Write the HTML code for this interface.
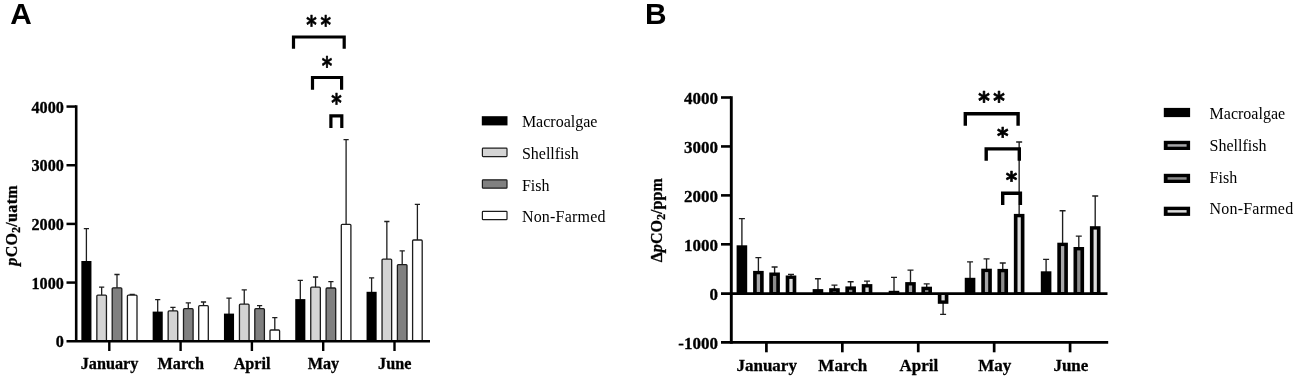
<!DOCTYPE html>
<html lang="en"><head><meta charset="utf-8"><title>pCO2 charts</title>
<style>
html,body{margin:0;padding:0;background:#fff;}
body{width:1299px;height:380px;overflow:hidden;}
svg{display:block;}
.pl{font-family:"Liberation Sans",sans-serif;font-weight:bold;font-size:29.8px;fill:#000;}
.tk{font-family:"Liberation Serif",serif;font-weight:bold;font-size:16.2px;fill:#000;stroke:#000;stroke-width:0.3px;}
.tkb{font-family:"Liberation Serif",serif;font-weight:bold;font-size:17px;fill:#000;stroke:#000;stroke-width:0.3px;}
.lg{font-family:"Liberation Serif",serif;font-size:16px;fill:#000;}
.st{font-family:"DejaVu Sans",sans-serif;font-weight:bold;fill:#000;}
</style></head><body>
<svg width="1299" height="380" viewBox="0 0 1299 380">
<rect x="0" y="0" width="1299" height="380" fill="#fff"/>
<g id="panelA">
<text class="pl" x="10.3" y="24.3">A</text>
<path d="M86.4 262V228.7M83.8 228.7H89" stroke="#1e1e1e" stroke-width="1.3" fill="none"/>
<rect x="81.35" y="261" width="10.1" height="80.25" fill="#000"/>
<path d="M101.65 295.7V287.1M99.05 287.1H104.25" stroke="#1e1e1e" stroke-width="1.3" fill="none"/>
<rect x="96.85" y="295.1" width="9.6" height="45.95" rx="1" fill="#d4d4d4" stroke="#1c1c1c" stroke-width="1.3"/>
<path d="M117 288.4V274.5M114.4 274.5H119.6" stroke="#1e1e1e" stroke-width="1.3" fill="none"/>
<rect x="112.2" y="287.8" width="9.6" height="53.25" rx="1" fill="#808080" stroke="#1c1c1c" stroke-width="1.3"/>
<path d="M132.2 295.7V294.3M129.6 294.3H134.8" stroke="#1e1e1e" stroke-width="1.3" fill="none"/>
<rect x="127.4" y="295.1" width="9.6" height="45.95" rx="1" fill="#fff" stroke="#1c1c1c" stroke-width="1.3"/>
<path d="M157.7 312.6V299.6M155.1 299.6H160.3" stroke="#1e1e1e" stroke-width="1.3" fill="none"/>
<rect x="152.65" y="311.6" width="10.1" height="29.65" fill="#000"/>
<path d="M172.95 311.5V307.3M170.35 307.3H175.55" stroke="#1e1e1e" stroke-width="1.3" fill="none"/>
<rect x="168.15" y="310.9" width="9.6" height="30.15" rx="1" fill="#d4d4d4" stroke="#1c1c1c" stroke-width="1.3"/>
<path d="M188.3 309.3V302.9M185.7 302.9H190.9" stroke="#1e1e1e" stroke-width="1.3" fill="none"/>
<rect x="183.5" y="308.7" width="9.6" height="32.35" rx="1" fill="#808080" stroke="#1c1c1c" stroke-width="1.3"/>
<path d="M203.5 306.3V302M200.9 302H206.1" stroke="#1e1e1e" stroke-width="1.3" fill="none"/>
<rect x="198.7" y="305.7" width="9.6" height="35.35" rx="1" fill="#fff" stroke="#1c1c1c" stroke-width="1.3"/>
<path d="M229 314.6V298.1M226.4 298.1H231.6" stroke="#1e1e1e" stroke-width="1.3" fill="none"/>
<rect x="223.95" y="313.6" width="10.1" height="27.65" fill="#000"/>
<path d="M244.25 304.7V289.9M241.65 289.9H246.85" stroke="#1e1e1e" stroke-width="1.3" fill="none"/>
<rect x="239.45" y="304.1" width="9.6" height="36.95" rx="1" fill="#d4d4d4" stroke="#1c1c1c" stroke-width="1.3"/>
<path d="M259.6 309.3V305.6M257 305.6H262.2" stroke="#1e1e1e" stroke-width="1.3" fill="none"/>
<rect x="254.8" y="308.7" width="9.6" height="32.35" rx="1" fill="#808080" stroke="#1c1c1c" stroke-width="1.3"/>
<path d="M274.8 330.6V317.7M272.2 317.7H277.4" stroke="#1e1e1e" stroke-width="1.3" fill="none"/>
<rect x="270" y="330" width="9.6" height="11.05" rx="1" fill="#fff" stroke="#1c1c1c" stroke-width="1.3"/>
<path d="M300.3 300.1V280.3M297.7 280.3H302.9" stroke="#1e1e1e" stroke-width="1.3" fill="none"/>
<rect x="295.25" y="299.1" width="10.1" height="42.15" fill="#000"/>
<path d="M315.55 287.8V277M312.95 277H318.15" stroke="#1e1e1e" stroke-width="1.3" fill="none"/>
<rect x="310.75" y="287.2" width="9.6" height="53.85" rx="1" fill="#d4d4d4" stroke="#1c1c1c" stroke-width="1.3"/>
<path d="M330.9 288.6V281.6M328.3 281.6H333.5" stroke="#1e1e1e" stroke-width="1.3" fill="none"/>
<rect x="326.1" y="288" width="9.6" height="53.05" rx="1" fill="#808080" stroke="#1c1c1c" stroke-width="1.3"/>
<path d="M346.1 224.9V139.6M343.5 139.6H348.7" stroke="#1e1e1e" stroke-width="1.3" fill="none"/>
<rect x="341.3" y="224.3" width="9.6" height="116.75" rx="1" fill="#fff" stroke="#1c1c1c" stroke-width="1.3"/>
<path d="M371.6 292.8V277.8M369 277.8H374.2" stroke="#1e1e1e" stroke-width="1.3" fill="none"/>
<rect x="366.55" y="291.8" width="10.1" height="49.45" fill="#000"/>
<path d="M386.85 259.7V221.5M384.25 221.5H389.45" stroke="#1e1e1e" stroke-width="1.3" fill="none"/>
<rect x="382.05" y="259.1" width="9.6" height="81.95" rx="1" fill="#d4d4d4" stroke="#1c1c1c" stroke-width="1.3"/>
<path d="M402.2 265.2V250.8M399.6 250.8H404.8" stroke="#1e1e1e" stroke-width="1.3" fill="none"/>
<rect x="397.4" y="264.6" width="9.6" height="76.45" rx="1" fill="#808080" stroke="#1c1c1c" stroke-width="1.3"/>
<path d="M417.4 240.6V204.4M414.8 204.4H420" stroke="#1e1e1e" stroke-width="1.3" fill="none"/>
<rect x="412.6" y="240" width="9.6" height="101.05" rx="1" fill="#fff" stroke="#1c1c1c" stroke-width="1.3"/>
<path d="M76.2 105.25V342" stroke="#000" stroke-width="2.6" fill="none"/>
<path d="M66.5 341.25H430" stroke="#000" stroke-width="2.7" fill="none"/>
<text class="tk" x="63.9" y="347.45" text-anchor="end">0</text>
<path d="M66.5 282.58H76" stroke="#000" stroke-width="2.5" fill="none"/>
<text class="tk" x="63.9" y="288.78" text-anchor="end">1000</text>
<path d="M66.5 223.91H76" stroke="#000" stroke-width="2.5" fill="none"/>
<text class="tk" x="63.9" y="230.11" text-anchor="end">2000</text>
<path d="M66.5 165.24H76" stroke="#000" stroke-width="2.5" fill="none"/>
<text class="tk" x="63.9" y="171.44" text-anchor="end">3000</text>
<path d="M66.5 106.57H76" stroke="#000" stroke-width="2.5" fill="none"/>
<text class="tk" x="63.9" y="112.77" text-anchor="end">4000</text>
<path d="M109.3 341.25V351" stroke="#000" stroke-width="2.4" fill="none"/>
<text class="tk" x="109.5" y="368.8" text-anchor="middle">January</text>
<path d="M180.6 341.25V351" stroke="#000" stroke-width="2.4" fill="none"/>
<text class="tk" x="180.8" y="368.8" text-anchor="middle">March</text>
<path d="M251.9 341.25V351" stroke="#000" stroke-width="2.4" fill="none"/>
<text class="tk" x="252.1" y="368.8" text-anchor="middle">April</text>
<path d="M323.2 341.25V351" stroke="#000" stroke-width="2.4" fill="none"/>
<text class="tk" x="323.4" y="368.8" text-anchor="middle">May</text>
<path d="M394.5 341.25V351" stroke="#000" stroke-width="2.4" fill="none"/>
<text class="tk" x="394.7" y="368.8" text-anchor="middle">June</text>
<text class="tk" style="font-size:16px;letter-spacing:0.32px" transform="translate(16.5 265.7) rotate(-90)"><tspan font-style="italic">p</tspan>CO<tspan font-size="11.5" dy="3.1">2</tspan><tspan dy="-3.1">/uatm</tspan></text>
<path d="M293.5 48.7V37H344.2V48.7" stroke="#000" stroke-width="3.2" fill="none" stroke-linejoin="miter"/>
<path d="M312.5 89.7V77.5H341.6V89.7" stroke="#000" stroke-width="3.2" fill="none" stroke-linejoin="miter"/>
<path d="M330.9 128V115.9H341.8V128" stroke="#000" stroke-width="3.2" fill="none" stroke-linejoin="miter"/>
<text class="st" font-size="20" transform="translate(311.5 21.2) scale(1 1.2)" x="0" y="9.62" text-anchor="middle" stroke="#000" stroke-width="0.45" stroke-linejoin="round">*</text>
<text class="st" font-size="20" transform="translate(325.6 21.2) scale(1 1.2)" x="0" y="9.62" text-anchor="middle" stroke="#000" stroke-width="0.45" stroke-linejoin="round">*</text>
<text class="st" font-size="20" transform="translate(327 62.6) scale(1 1.2)" x="0" y="9.62" text-anchor="middle" stroke="#000" stroke-width="0.45" stroke-linejoin="round">*</text>
<text class="st" font-size="20" transform="translate(336.4 99.6) scale(1 1.2)" x="0" y="9.62" text-anchor="middle" stroke="#000" stroke-width="0.45" stroke-linejoin="round">*</text>
<rect x="481.8" y="116.2" width="25.7" height="9.2" fill="#000"/>
<text class="lg" x="521.9" y="126.8">Macroalgae</text>
<rect x="482.4" y="148.2" width="24.6" height="8.4" rx="0.8" fill="#d4d4d4" stroke="#1c1c1c" stroke-width="1.2"/>
<text class="lg" x="521.9" y="158.9">Shellfish</text>
<rect x="482.4" y="179.8" width="24.6" height="8.4" rx="0.8" fill="#808080" stroke="#1c1c1c" stroke-width="1.2"/>
<text class="lg" x="521.9" y="190.7">Fish</text>
<rect x="482.4" y="211.3" width="24.6" height="8.4" rx="0.8" fill="#fff" stroke="#1c1c1c" stroke-width="1.2"/>
<text class="lg" x="521.9" y="222" letter-spacing="0.2">Non-Farmed</text>
</g>
<g id="panelB">
<text class="pl" x="644.9" y="24.3">B</text>
<path d="M741.9 246.3V218.6M738.9 218.6H744.9" stroke="#1e1e1e" stroke-width="1.35" fill="none"/>
<rect x="736.6" y="245.3" width="10.6" height="48.2" fill="#000"/>
<path d="M758.4 271.9V257.6M755.4 257.6H761.4" stroke="#1e1e1e" stroke-width="1.35" fill="none"/>
<rect x="753.1" y="270.9" width="10.6" height="22.6" fill="#000"/>
<rect x="756.75" y="274.3" width="3.3" height="17.8" fill="#a6a6a8"/>
<path d="M774.6 273.5V267M771.6 267H777.6" stroke="#1e1e1e" stroke-width="1.35" fill="none"/>
<rect x="769.3" y="272.5" width="10.6" height="21" fill="#000"/>
<rect x="772.95" y="275.9" width="3.3" height="16.2" fill="#8c8c8c"/>
<path d="M791 276.5V274.4M788 274.4H794" stroke="#1e1e1e" stroke-width="1.35" fill="none"/>
<rect x="785.7" y="275.5" width="10.6" height="18" fill="#000"/>
<rect x="789.35" y="278.9" width="3.3" height="13.2" fill="#dcdcdc"/>
<path d="M817.95 290.1V278.7M814.95 278.7H820.95" stroke="#1e1e1e" stroke-width="1.35" fill="none"/>
<rect x="812.65" y="289.1" width="10.6" height="4.4" fill="#000"/>
<path d="M834.45 289.2V285.1M831.45 285.1H837.45" stroke="#1e1e1e" stroke-width="1.35" fill="none"/>
<rect x="829.15" y="288.2" width="10.6" height="5.3" fill="#000"/>
<rect x="832.8" y="291.6" width="3.3" height="0.5" fill="#a6a6a8"/>
<path d="M850.65 287.4V281.7M847.65 281.7H853.65" stroke="#1e1e1e" stroke-width="1.35" fill="none"/>
<rect x="845.35" y="286.4" width="10.6" height="7.1" fill="#000"/>
<rect x="849" y="289.8" width="3.3" height="2.3" fill="#8c8c8c"/>
<path d="M867.05 285.1V281.1M864.05 281.1H870.05" stroke="#1e1e1e" stroke-width="1.35" fill="none"/>
<rect x="861.75" y="284.1" width="10.6" height="9.4" fill="#000"/>
<rect x="865.4" y="287.5" width="3.3" height="4.6" fill="#dcdcdc"/>
<path d="M894 291.8V277.4M891 277.4H897" stroke="#1e1e1e" stroke-width="1.35" fill="none"/>
<rect x="888.7" y="290.8" width="10.6" height="2.7" fill="#000"/>
<path d="M910.5 283.1V270.1M907.5 270.1H913.5" stroke="#1e1e1e" stroke-width="1.35" fill="none"/>
<rect x="905.2" y="282.1" width="10.6" height="11.4" fill="#000"/>
<rect x="908.85" y="285.5" width="3.3" height="6.6" fill="#a6a6a8"/>
<path d="M926.7 287.7V283.9M923.7 283.9H929.7" stroke="#1e1e1e" stroke-width="1.35" fill="none"/>
<rect x="921.4" y="286.7" width="10.6" height="6.8" fill="#000"/>
<rect x="925.05" y="290.1" width="3.3" height="2" fill="#8c8c8c"/>
<path d="M943.1 302.8V314.4M940.1 314.4H946.1" stroke="#1e1e1e" stroke-width="1.35" fill="none"/>
<rect x="937.8" y="293.5" width="10.6" height="10.3" fill="#000"/>
<rect x="941.45" y="294.9" width="3.3" height="5.5" fill="#dcdcdc"/>
<path d="M970.05 278.8V261.8M967.05 261.8H973.05" stroke="#1e1e1e" stroke-width="1.35" fill="none"/>
<rect x="964.75" y="277.8" width="10.6" height="15.7" fill="#000"/>
<path d="M986.55 269.7V258.8M983.55 258.8H989.55" stroke="#1e1e1e" stroke-width="1.35" fill="none"/>
<rect x="981.25" y="268.7" width="10.6" height="24.8" fill="#000"/>
<rect x="984.9" y="272.1" width="3.3" height="20" fill="#a6a6a8"/>
<path d="M1002.75 269.9V263M999.75 263H1005.75" stroke="#1e1e1e" stroke-width="1.35" fill="none"/>
<rect x="997.45" y="268.9" width="10.6" height="24.6" fill="#000"/>
<rect x="1001.1" y="272.3" width="3.3" height="19.8" fill="#8c8c8c"/>
<path d="M1019.15 214.9V142M1016.15 142H1022.15" stroke="#1e1e1e" stroke-width="1.35" fill="none"/>
<rect x="1013.85" y="213.9" width="10.6" height="79.6" fill="#000"/>
<rect x="1017.5" y="217.3" width="3.3" height="74.8" fill="#dcdcdc"/>
<path d="M1046.1 272.3V259.3M1043.1 259.3H1049.1" stroke="#1e1e1e" stroke-width="1.35" fill="none"/>
<rect x="1040.8" y="271.3" width="10.6" height="22.2" fill="#000"/>
<path d="M1062.6 243.7V210.7M1059.6 210.7H1065.6" stroke="#1e1e1e" stroke-width="1.35" fill="none"/>
<rect x="1057.3" y="242.7" width="10.6" height="50.8" fill="#000"/>
<rect x="1060.95" y="246.1" width="3.3" height="46" fill="#a6a6a8"/>
<path d="M1078.8 248V236.1M1075.8 236.1H1081.8" stroke="#1e1e1e" stroke-width="1.35" fill="none"/>
<rect x="1073.5" y="247" width="10.6" height="46.5" fill="#000"/>
<rect x="1077.15" y="250.4" width="3.3" height="41.7" fill="#8c8c8c"/>
<path d="M1095.2 227.2V196M1092.2 196H1098.2" stroke="#1e1e1e" stroke-width="1.35" fill="none"/>
<rect x="1089.9" y="226.2" width="10.6" height="67.3" fill="#000"/>
<rect x="1093.55" y="229.6" width="3.3" height="62.5" fill="#dcdcdc"/>
<path d="M731.3 96.2V343.7" stroke="#000" stroke-width="2.9" fill="none"/>
<path d="M721 293.65H1107.5" stroke="#000" stroke-width="2.8" fill="none"/>
<path d="M721 342.35H1108.2" stroke="#000" stroke-width="2.8" fill="none"/>
<text class="tkb" x="718" y="348.8" text-anchor="end">-1000</text>
<text class="tkb" x="718" y="299.86" text-anchor="end">0</text>
<path d="M721 244.32H731" stroke="#000" stroke-width="2.6" fill="none"/>
<text class="tkb" x="718" y="250.92" text-anchor="end">1000</text>
<path d="M721 195.38H731" stroke="#000" stroke-width="2.6" fill="none"/>
<text class="tkb" x="718" y="201.98" text-anchor="end">2000</text>
<path d="M721 146.44H731" stroke="#000" stroke-width="2.6" fill="none"/>
<text class="tkb" x="718" y="153.04" text-anchor="end">3000</text>
<path d="M721 97.5H731" stroke="#000" stroke-width="2.6" fill="none"/>
<text class="tkb" x="718" y="104.1" text-anchor="end">4000</text>
<path d="M766.4 342.2V352.3" stroke="#000" stroke-width="2.7" fill="none"/>
<text class="tkb" x="766.7" y="370.7" text-anchor="middle">January</text>
<path d="M842.32 342.2V352.3" stroke="#000" stroke-width="2.7" fill="none"/>
<text class="tkb" x="842.75" y="370.7" text-anchor="middle">March</text>
<path d="M918.24 342.2V352.3" stroke="#000" stroke-width="2.7" fill="none"/>
<text class="tkb" x="918.8" y="370.7" text-anchor="middle">April</text>
<path d="M994.16 342.2V352.3" stroke="#000" stroke-width="2.7" fill="none"/>
<text class="tkb" x="994.85" y="370.7" text-anchor="middle">May</text>
<path d="M1070.08 342.2V352.3" stroke="#000" stroke-width="2.7" fill="none"/>
<text class="tkb" x="1070.9" y="370.7" text-anchor="middle">June</text>
<text class="tkb" style="font-size:16px;letter-spacing:0.1px" transform="translate(661.7 262.3) rotate(-90)">&#916;<tspan font-style="italic">p</tspan>CO<tspan font-size="11.5" dy="3.2">2</tspan><tspan dy="-3.2">/ppm</tspan></text>
<path d="M965.3 125.8V113.7H1018.1V125.8" stroke="#000" stroke-width="3.4" fill="none" stroke-linejoin="miter"/>
<path d="M986.2 160.8V148.9H1019.3V160.8" stroke="#000" stroke-width="3.4" fill="none" stroke-linejoin="miter"/>
<path d="M1002.7 205.1V193.2H1020.4V205.1" stroke="#000" stroke-width="3.4" fill="none" stroke-linejoin="miter"/>
<text class="st" font-size="22" transform="translate(984 96.6) scale(1 1.13)" x="0" y="10.58" text-anchor="middle" stroke="#000" stroke-width="0.65" stroke-linejoin="round">*</text>
<text class="st" font-size="22" transform="translate(999.1 96.6) scale(1 1.13)" x="0" y="10.58" text-anchor="middle" stroke="#000" stroke-width="0.65" stroke-linejoin="round">*</text>
<text class="st" font-size="22" transform="translate(1002.8 132.6) scale(1 1.05)" x="0" y="10.58" text-anchor="middle" stroke="#000" stroke-width="0.65" stroke-linejoin="round">*</text>
<text class="st" font-size="22" transform="translate(1011.6 176.7) scale(1 1.05)" x="0" y="10.58" text-anchor="middle" stroke="#000" stroke-width="0.65" stroke-linejoin="round">*</text>
<rect x="1163.8" y="107.9" width="26.3" height="9.2" fill="#000"/>
<text class="lg" x="1209.6" y="118.9">Macroalgae</text>
<rect x="1163.8" y="140.8" width="26.3" height="9.2" fill="#000"/>
<rect x="1167.6" y="144.2" width="19" height="2.5" fill="#a6a6a8"/>
<text class="lg" x="1209.6" y="151">Shellfish</text>
<rect x="1163.8" y="173.8" width="26.3" height="9.2" fill="#000"/>
<rect x="1167.6" y="177.2" width="19" height="2.5" fill="#8c8c8c"/>
<text class="lg" x="1209.6" y="182.8">Fish</text>
<rect x="1163.8" y="206.7" width="26.3" height="9.2" fill="#000"/>
<rect x="1167.6" y="210.1" width="19" height="2.5" fill="#dcdcdc"/>
<text class="lg" x="1209.6" y="214.4" letter-spacing="0.2">Non-Farmed</text>
</g>
</svg></body></html>
